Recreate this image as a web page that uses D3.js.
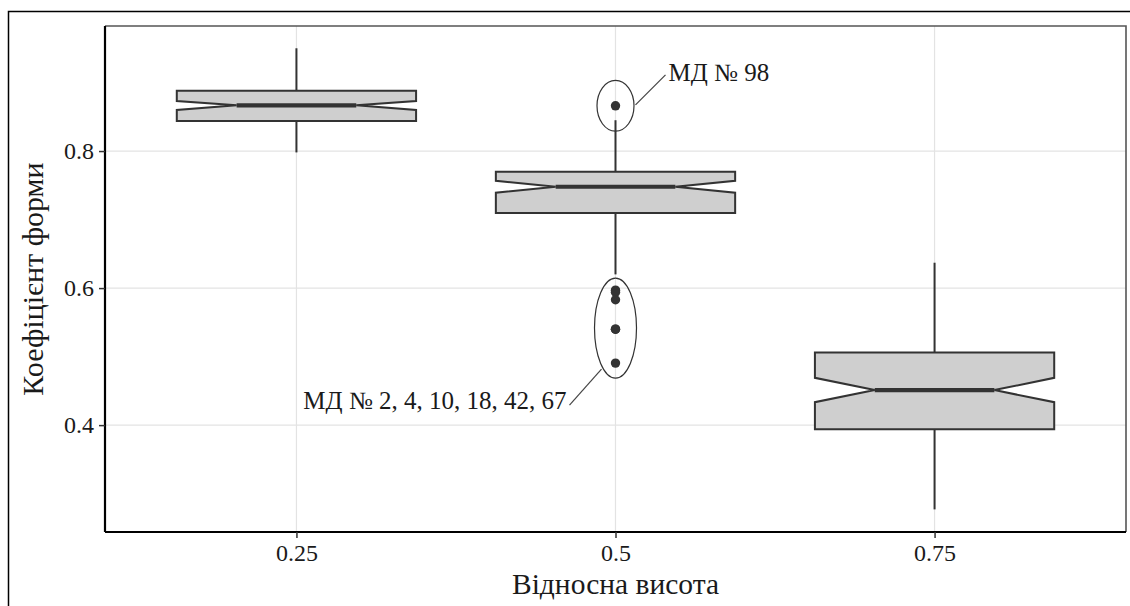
<!DOCTYPE html>
<html>
<head>
<meta charset="utf-8">
<script src="https://cdn.jsdelivr.net/npm/d3@7"></script>
<style>
  html, body { margin: 0; padding: 0; background: #fff; }
  svg { display: block; }
  text { font-family: "Liberation Serif", "DejaVu Serif", serif; fill: #1a1a1a; }
</style>
</head>
<body>
<svg id="chart" width="1130" height="606"></svg>
<script>
// ---- data ----
const categories = ["0.25", "0.5", "0.75"];
const whiskerLow  = [0.798, 0.620, 0.277];
const q1          = [0.844, 0.7095, 0.394];
const notchLow    = [0.860, 0.7391, 0.4335];
const median      = [0.8667, 0.7479, 0.4511];
const notchHigh   = [0.873, 0.7566, 0.469];
const q3          = [0.888, 0.7698, 0.5061];
const whiskerHigh = [0.950, 0.845, 0.637];
const outlierCat  = ["0.5", "0.5", "0.5", "0.5", "0.5", "0.5", "0.5"];
const outlierVal  = [0.866, 0.597, 0.594, 0.583, 0.540, 0.540, 0.4905];
const yTicks = [0.4, 0.6, 0.8];
const yDomain = [0.244, 0.9825];
const annotCat    = ["0.5", "0.5"];
const annotTop    = [0.903, 0.6146];
const annotBottom = [0.829, 0.4686];
const annotText   = ["МД № 98", "МД № 2, 4, 10, 18, 42, 67"];
const xTitle = "Відносна висота";
const yTitle = "Коефіцієнт форми";

// ---- layout ----
const svg = d3.select("#chart");
const P = { left: 105, right: 1126, top: 26, bottom: 532 };

const x = d3.scalePoint().domain(categories).range([P.left, P.right]).padding(0.6);
const y = d3.scaleLinear().domain(yDomain).range([P.bottom, P.top]);
const boxW = x.step() * 0.75;
const indent = boxW / 4;

// outer frame
svg.append("path").attr("d", `M8.5,606 L8.5,11.5 L1130,11.5`)
  .attr("fill", "none").attr("stroke", "#000").attr("stroke-width", 1.5);

// gridlines
const g = svg.append("g");
g.selectAll(".gy").data(yTicks).join("line")
  .attr("x1", P.left).attr("x2", P.right)
  .attr("y1", d => y(d)).attr("y2", d => y(d))
  .attr("stroke", "#e3e3e3").attr("stroke-width", 1.2);
g.selectAll(".gx").data(categories).join("line")
  .attr("x1", d => x(d)).attr("x2", d => x(d))
  .attr("y1", P.top).attr("y2", P.bottom)
  .attr("stroke", "#e3e3e3").attr("stroke-width", 1.2);

// panel border top/right
svg.append("path").attr("d", `M${P.left},${P.top} L${P.right},${P.top} L${P.right},${P.bottom}`)
  .attr("fill", "none").attr("stroke", "#555").attr("stroke-width", 1.6);

// boxes
const boxes = categories.map((c, i) => ({ c, i }));
const bg = svg.append("g");
// whiskers
bg.selectAll(".wu").data(boxes).join("line")
  .attr("x1", d => x(d.c)).attr("x2", d => x(d.c))
  .attr("y1", d => y(whiskerHigh[d.i])).attr("y2", d => y(q3[d.i]))
  .attr("stroke", "#333").attr("stroke-width", 2);
bg.selectAll(".wl").data(boxes).join("line")
  .attr("x1", d => x(d.c)).attr("x2", d => x(d.c))
  .attr("y1", d => y(whiskerLow[d.i])).attr("y2", d => y(q1[d.i]))
  .attr("stroke", "#333").attr("stroke-width", 2);
// notched box
bg.selectAll(".box").data(boxes).join("path")
  .attr("d", d => {
    const xm = x(d.c) - boxW / 2, xM = x(d.c) + boxW / 2;
    const pts = [
      [xm, y(q3[d.i])], [xm, y(notchHigh[d.i])], [xm + indent, y(median[d.i])],
      [xm, y(notchLow[d.i])], [xm, y(q1[d.i])], [xM, y(q1[d.i])],
      [xM, y(notchLow[d.i])], [xM - indent, y(median[d.i])], [xM, y(notchHigh[d.i])],
      [xM, y(q3[d.i])]
    ];
    return "M" + pts.map(p => p.join(",")).join("L") + "Z";
  })
  .attr("fill", "#cfcfcf").attr("stroke", "#333").attr("stroke-width", 2)
  .attr("stroke-linejoin", "miter");
bg.selectAll(".med").data(boxes).join("line")
  .attr("x1", d => x(d.c) - boxW / 2 + indent).attr("x2", d => x(d.c) + boxW / 2 - indent)
  .attr("y1", d => y(median[d.i])).attr("y2", d => y(median[d.i]))
  .attr("stroke", "#333").attr("stroke-width", 4.2);

// outliers
bg.selectAll(".out").data(outlierVal).join("circle")
  .attr("cx", (d, i) => x(outlierCat[i])).attr("cy", d => y(d))
  .attr("r", 4.7).attr("fill", "#333");

// annotations
const ag = svg.append("g");
annotText.forEach((t, i) => {
  const cx = x(annotCat[i]);
  const yt = y(annotTop[i]), yb = y(annotBottom[i]);
  const cy = (yt + yb) / 2, ry = (yb - yt) / 2;
  const rx = i === 0 ? 18.5 : 21;
  ag.append("ellipse").attr("cx", cx).attr("cy", cy).attr("rx", rx).attr("ry", ry)
    .attr("fill", "none").attr("stroke", "#333").attr("stroke-width", 1.2);
  if (i === 0) {
    ag.append("line").attr("x1", cx + 20).attr("y1", cy - 1).attr("x2", cx + 50).attr("y2", cy - 31)
      .attr("stroke", "#444").attr("stroke-width", 1.2);
    ag.append("text").attr("x", cx + 53).attr("y", cy - 25).attr("font-size", 25).text(t);
  } else {
    ag.append("line").attr("x1", cx - 14).attr("y1", cy + 41).attr("x2", cx - 46).attr("y2", cy + 77)
      .attr("stroke", "#444").attr("stroke-width", 1.2);
    ag.append("text").attr("x", cx - 49).attr("y", cy + 81).attr("text-anchor", "end")
      .attr("font-size", 25).text(t);
  }
});

// axes
const yAxis = svg.append("g").attr("transform", `translate(${P.left},0)`)
  .call(d3.axisLeft(y).tickValues(yTicks).tickFormat(d3.format(".1f")).tickSize(6).tickPadding(5));
const xAxis = svg.append("g").attr("transform", `translate(0,${P.bottom})`)
  .call(d3.axisBottom(x).tickSize(6).tickPadding(6));
[yAxis, xAxis].forEach(a => {
  a.attr("font-size", 24).attr("font-family", '"Liberation Serif", serif');
  a.select(".domain").attr("stroke", "#000").attr("stroke-width", 2.2);
  a.selectAll(".tick line").attr("stroke", "#333").attr("stroke-width", 1.5);
  a.selectAll(".tick text").attr("font-size", 24).attr("fill", "#1a1a1a")
    .style("font-size", "24px");
});
yAxis.select(".domain").attr("d", `M0,${P.top}V${P.bottom}`);
xAxis.select(".domain").attr("d", `M${P.left},0H${P.right}`);

// titles
svg.append("text").attr("x", x("0.5")).attr("y", 594).attr("text-anchor", "middle")
  .attr("font-size", 29.5).text(xTitle);
svg.append("text").attr("transform", `translate(43,${(P.top + P.bottom) / 2}) rotate(-90)`)
  .attr("text-anchor", "middle").attr("font-size", 30).text(yTitle);
</script>
</body>
</html>
